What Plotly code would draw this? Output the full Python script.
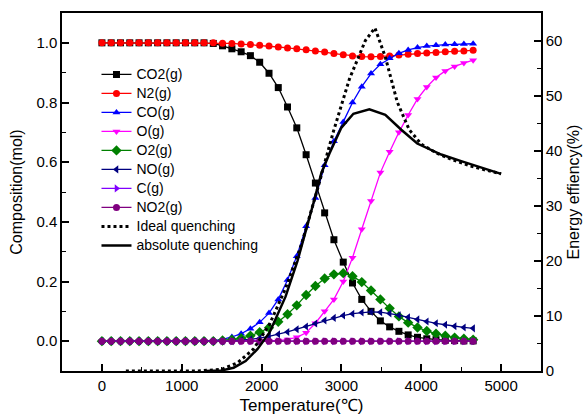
import plotly.graph_objects as go

# ---------------- data ----------------
temperature = [0, 116, 233, 349, 465, 581, 698, 814, 930, 1046, 1163, 1279, 1395, 1511,
               1628, 1744, 1860, 1976, 2093, 2209, 2325, 2441, 2558, 2674, 2790, 2906,
               3023, 3139, 3255, 3371, 3488, 3604, 3720, 3836, 3953, 4069, 4185, 4301,
               4418, 4534, 4650]

co2 = [1.0, 1.0, 1.0, 1.0, 1.0, 1.0, 1.0, 1.0, 1.0, 1.0, 1.0, 1.0, 0.998, 0.99,
       0.98, 0.97, 0.957, 0.935, 0.898, 0.85, 0.785, 0.715, 0.625, 0.53, 0.43, 0.34,
       0.265, 0.195, 0.14, 0.10, 0.068, 0.048, 0.033, 0.021, 0.013, 0.008, 0.005, 0.003,
       0.002, 0.001, 0.001]

n2 = [1.0, 1.0, 1.0, 1.0, 1.0, 1.0, 1.0, 1.0, 1.0, 1.0, 1.0, 1.0, 1.0, 0.999,
      0.998, 0.996, 0.994, 0.992, 0.989, 0.986, 0.983, 0.980, 0.977, 0.973, 0.969, 0.964,
      0.960, 0.956, 0.954, 0.953, 0.954, 0.956, 0.959, 0.962, 0.964, 0.966, 0.968, 0.970,
      0.972, 0.973, 0.975]

co = [0, 0, 0, 0, 0, 0, 0, 0, 0, 0, 0, 0, 0.002, 0.006,
      0.014, 0.025, 0.042, 0.063, 0.094, 0.14, 0.205, 0.285, 0.385, 0.48, 0.59, 0.67,
      0.735, 0.80, 0.853, 0.897, 0.928, 0.948, 0.965, 0.976, 0.984, 0.989, 0.992, 0.994,
      0.995, 0.996, 0.997]

o = [0, 0, 0, 0, 0, 0, 0, 0, 0, 0, 0, 0, 0, 0,
     0, 0, 0, 0, 0, 0.002, 0.006, 0.013, 0.028, 0.06, 0.10, 0.14,
     0.20, 0.28, 0.375, 0.47, 0.565, 0.635, 0.70, 0.758, 0.812, 0.852, 0.884, 0.906,
     0.921, 0.932, 0.942]

o2 = [0, 0, 0, 0, 0, 0, 0, 0, 0, 0, 0, 0, 0, 0.002,
      0.005, 0.01, 0.018, 0.03, 0.045, 0.065, 0.09, 0.12, 0.155, 0.185, 0.21, 0.224,
      0.228, 0.218, 0.198, 0.17, 0.14, 0.11, 0.083, 0.062, 0.046, 0.034, 0.025, 0.018,
      0.012, 0.008, 0.005]

no = [0, 0, 0, 0, 0, 0, 0, 0, 0, 0, 0, 0, 0, 0,
      0, 0.003, 0.006, 0.01, 0.016, 0.023, 0.031, 0.04, 0.049, 0.059, 0.069, 0.078,
      0.086, 0.092, 0.096, 0.098, 0.097, 0.093, 0.087, 0.08, 0.073, 0.066, 0.06, 0.055,
      0.05, 0.046, 0.043]

c = [0] * 41
no2 = [0] * 41

ideal_T = [300, 600, 900, 1200, 1500, 1700, 1900, 2100, 2300, 2500, 2700, 2900, 3100,
           3300, 3420, 3550, 3700, 3850, 4000, 4200, 4400, 4600, 4800, 5000]
ideal_eff = [0, 0, 0, 0, 0.3, 1.5, 4, 8.5, 15, 23, 33, 43.5, 53,
             60, 62.3, 57, 48.8, 43.8, 41.2, 39.5, 38.3, 37.3, 36.5, 35.8]

abs_T = [1300, 1500, 1650, 1800, 1950, 2100, 2300, 2450, 2650, 2750, 2850, 3000, 3150,
         3350, 3550, 3750, 3950, 4250, 4500, 4750, 5000]
abs_eff = [0, 0.1, 0.6, 1.8, 4, 7, 13.5, 20, 30.5, 36, 39.5, 44.2, 46.7,
           47.5, 46.5, 43.8, 41.3, 39.3, 38.1, 36.9, 35.8]

species = [
    ("CO2(g)", co2, "#000000", "square"),
    ("N2(g)", n2, "#FF0000", "circle"),
    ("CO(g)", co, "#0000FF", "triangle-up"),
    ("O(g)", o, "#FF00FF", "triangle-down"),
    ("O2(g)", o2, "#008000", "diamond"),
    ("NO(g)", no, "#000080", "triangle-left"),
    ("C(g)", c, "#8000FF", "triangle-right"),
    ("NO2(g)", no2, "#800080", "circle"),
]

FONT = "Arial, Liberation Sans, sans-serif"


def lg(label):
    return '<span style="font-size:14px">' + label + '</span>'


fig = go.Figure()
for name, vals, col, sym in species:
    fig.add_trace(go.Scatter(
        x=temperature, y=vals, name=lg(name), mode="lines+markers",
        line=dict(color=col, width=1.3),
        marker=dict(color=col, symbol=sym, size=7 if sym != "diamond" else 8),
        yaxis="y"))

fig.add_trace(go.Scatter(x=ideal_T, y=ideal_eff, name=lg("Ideal quenching"), mode="lines",
                         line=dict(color="black", width=3, dash="dot"), yaxis="y2"))
fig.add_trace(go.Scatter(x=abs_T, y=abs_eff, name=lg("absolute quenching"), mode="lines",
                         line=dict(color="black", width=2.5), yaxis="y2"))

axis_common = dict(showline=True, linecolor="black", linewidth=1.5, ticks="inside",
                   ticklen=7, tickwidth=1.5, tickcolor="black", showgrid=False,
                   zeroline=False, automargin=False,
                   tickfont=dict(family=FONT, size=15, color="black"))

fig.update_layout(
    width=585, height=416,
    margin=dict(l=62, r=44, t=13, b=45),
    paper_bgcolor="white", plot_bgcolor="white",
    font=dict(family=FONT, color="black"),
    showlegend=True,
    legend=dict(x=0.072, y=0.869, xanchor="left", yanchor="top",
                bgcolor="rgba(0,0,0,0)", font=dict(family=FONT, size=11, color="black"),
                tracegroupgap=0, itemwidth=30),
    xaxis=dict(range=[-500, 5500], dtick=1000, tick0=0, mirror=True,
               title=dict(text="Temperature(℃)", font=dict(family=FONT, size=17), standoff=6),
               minor=dict(ticks="inside", ticklen=4, tickwidth=1.2, tickcolor="black", dtick=500),
               **axis_common),
    yaxis=dict(range=[-0.1, 1.1], dtick=0.2, tick0=0, tickformat=".1f",
               title=dict(text="Composition(mol)", font=dict(family=FONT, size=16), standoff=10),
               minor=dict(ticks="inside", ticklen=4, tickwidth=1.2, tickcolor="black", dtick=0.1),
               **axis_common),
    yaxis2=dict(range=[0, 65], dtick=10, tick0=0, overlaying="y", side="right",
                title=dict(text="Energy effiency(%)", font=dict(family=FONT, size=16), standoff=6),
                minor=dict(ticks="inside", ticklen=4, tickwidth=1.2, tickcolor="black", dtick=5),
                **axis_common),
)

fig.write_html("out.html",
               config={"displayModeBar": False},
               post_script="document.body.style.margin='0px';document.body.style.overflow='hidden';")
